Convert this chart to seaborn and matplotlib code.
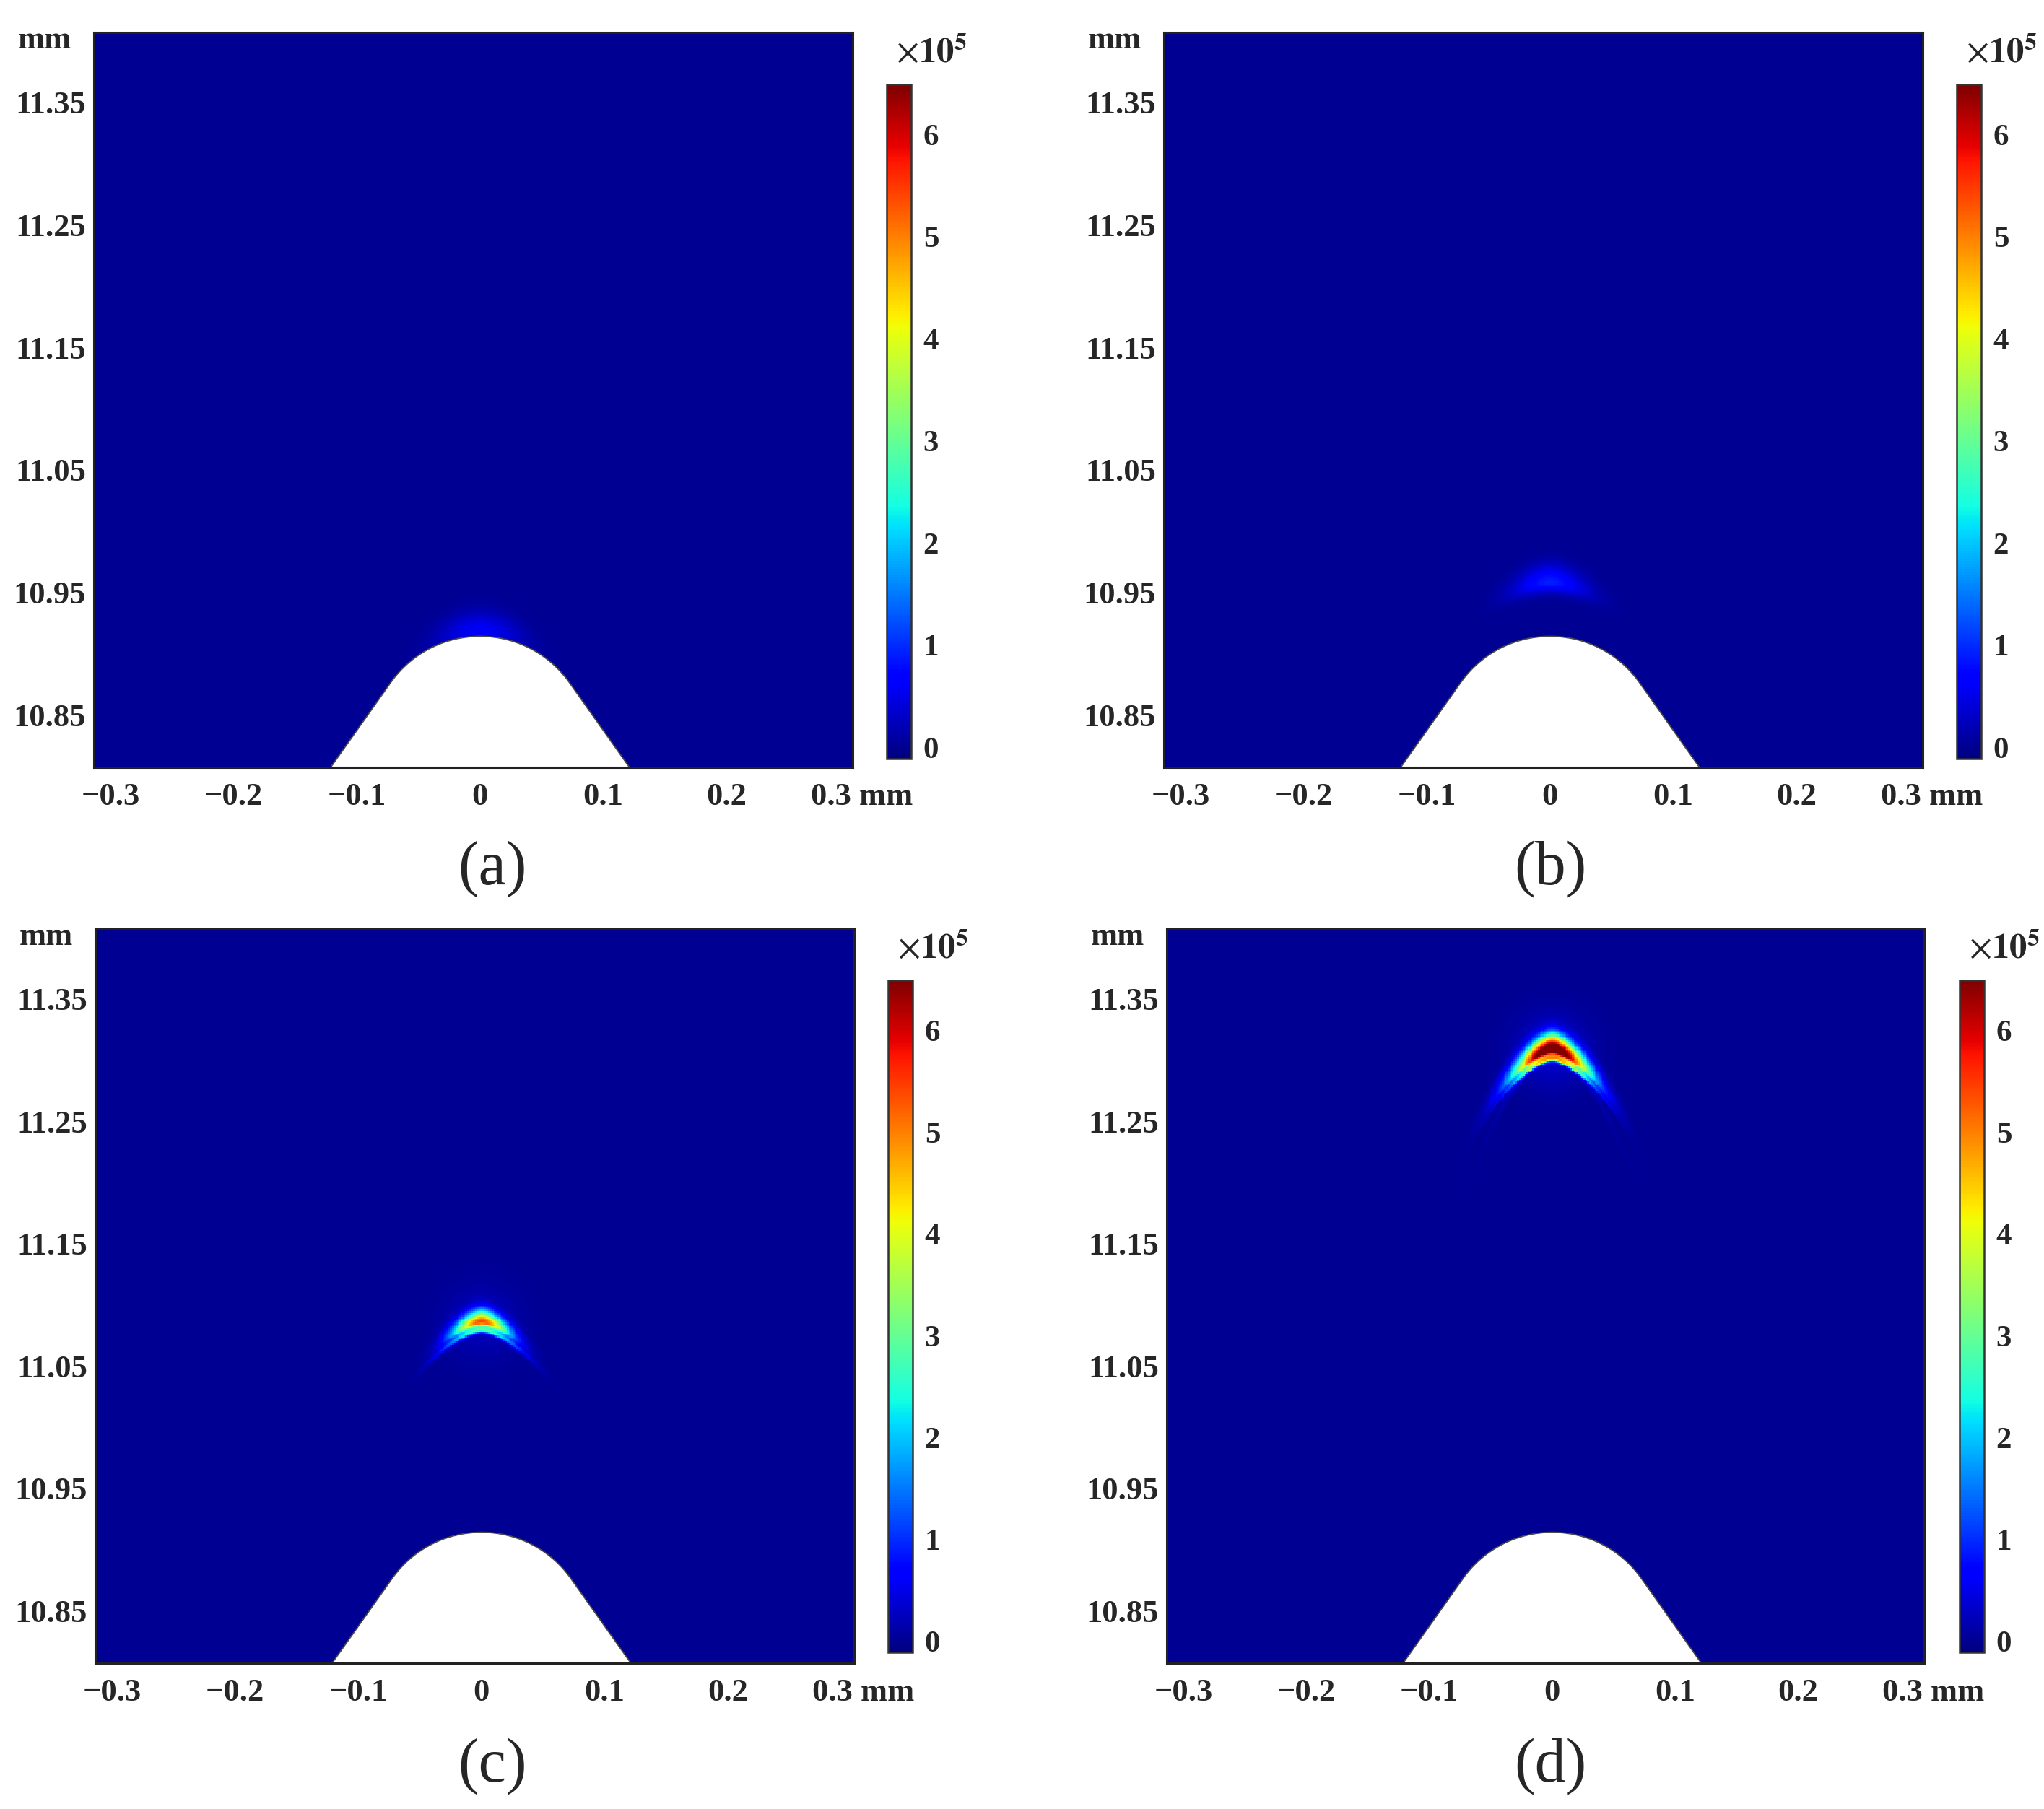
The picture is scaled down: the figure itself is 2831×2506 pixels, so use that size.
import numpy as np
import matplotlib
matplotlib.use("Agg")
import matplotlib.pyplot as plt
import seaborn as sns
from matplotlib.patches import Polygon

# --- values (field in units of 1e5) ---
panel_labels = ["(a)", "(b)", "(c)", "(d)"]

# streamer head: y of the front apex, peak value, half width, fall-off above / below the front
head_y = [10.918, 10.958, 11.086, 11.308]
head_peak = [0.6, 0.9, 4.9, 7.4]
head_width = [0.034, 0.030, 0.023, 0.030]
head_up = [0.016, 0.014, 0.0095, 0.012]
head_down = [0.020, 0.008, 0.0035, 0.004]
head_bend = [0.0, 0.12, 0.30, 0.35]
head_curv = [6.3, 5.0, 8.0, 11.0]
# inner (second) chevron and faint trailing arms
inner_ratio = [0.0, 0.0, 0.45, 0.50]
inner_width = [1.0, 1.0, 1.3, 1.05]
tail_peak = [0.0, 0.0, 0.45, 0.5]
tail_curv = [6.3, 10.0, 11.0, 18.0]

# needle electrode (mm)
tip_y = 10.914
tip_r = 0.0885
flank_slope = 1.42

# axes ranges and ticks
x_lim = (-0.3135, 0.3025)
y_lim = (10.807, 11.407)
x_ticks = [-0.3, -0.2, -0.1, 0.0, 0.1, 0.2, 0.3]
x_tick_labels = ["\u22120.3", "\u22120.2", "\u22120.1", "0", "0.1", "0.2", ""]
x_unit_label = "0.3 mm"
y_ticks = [10.85, 10.90, 10.95, 11.00, 11.05, 11.10, 11.15, 11.20, 11.25, 11.30, 11.35, 11.40]
y_tick_labels = ["10.85", "", "10.95", "", "11.05", "", "11.15", "", "11.25", "", "11.35", ""]
cbar_ticks = [0, 1, 2, 3, 4, 5, 6]
c_min, c_max = -0.11, 6.49

# --- grid ---
nx, ny = 400, 390
dx = (x_lim[1] - x_lim[0]) / nx
dy = (y_lim[1] - y_lim[0]) / ny
xs = x_lim[0] + (np.arange(nx) + 0.5) * dx
ys = y_lim[1] - (np.arange(ny) + 0.5) * dy
X, Y = np.meshgrid(xs, ys)


def col(x):
    return (x - x_lim[0]) / dx


def row(y):
    return (y_lim[1] - y) / dy


def electrode_top(x):
    phi = np.arctan(flank_slope)
    yc = tip_y - tip_r
    xt = tip_r * np.sin(phi)
    yt = yc + tip_r * np.cos(phi)
    ax_ = np.abs(x)
    arc = yc + np.sqrt(np.clip(tip_r ** 2 - ax_ ** 2, 0, None))
    line = yt - flank_slope * (ax_ - xt)
    return np.where(ax_ <= xt, arc, line)


def band(yh, amp, lx, up, down, bend, curv):
    front = yh - bend * (np.sqrt(X ** 2 + 0.004 ** 2) - 0.004) - curv * X ** 2
    d = Y - front
    sig = np.where(d > 0, up, down)
    return amp * np.exp(-(X / lx) ** 2) * np.exp(-(d / sig) ** 2)


# cells well inside the needle are masked, the outline patch covers the rest
inside = Y < electrode_top(X) - 1.5 * dy

sns.set_style("ticks")
plt.rcParams["font.family"] = ["Liberation Serif", "DejaVu Serif"]
plt.rcParams["mathtext.fontset"] = "stix"

W, H = 2831, 2506
fig = plt.figure(figsize=(W / 100, H / 100), dpi=100)

# pixel boxes (left, top, right, bottom)
ax_boxes = [(130, 45, 1181, 1063), (1612, 45, 2663, 1063),
            (132, 1287, 1183, 2304), (1616, 1287, 2665, 2304)]
cb_boxes = [(1228, 117, 1262, 1051), (2710, 117, 2744, 1051),
            (1230, 1358, 1264, 2289), (2714, 1358, 2748, 2289)]
label_pos = [(682, 1204), (2147, 1204), (682, 2447), (2147, 2447)]


def frac(box):
    l, t, r, b = box
    return [l / W, 1 - b / H, (r - l) / W, (b - t) / H]


for i in range(4):
    ax = fig.add_axes(frac(ax_boxes[i]))
    cax = fig.add_axes(frac(cb_boxes[i]))

    field = band(head_y[i], head_peak[i], head_width[i], head_up[i],
                 head_down[i], head_bend[i], head_curv[i])
    if inner_ratio[i] > 0:
        field += band(head_y[i] - 0.0065, head_peak[i] * inner_ratio[i],
                      head_width[i] * inner_width[i], 0.0025, 0.0022,
                      head_bend[i], head_curv[i])
    if tail_peak[i] > 0:
        field += band(head_y[i] - 0.004, tail_peak[i], head_width[i] * 1.3,
                      0.006, 0.004, head_bend[i], tail_curv[i])
        field += 0.05 * head_peak[i] * np.exp(-(X ** 2 + (Y - head_y[i]) ** 2) / 0.03 ** 2)

    sns.heatmap(field, ax=ax, cmap="jet", vmin=c_min, vmax=c_max, mask=inside,
                cbar_ax=cax, xticklabels=False, yticklabels=False,
                rasterized=True)
    ax.set_facecolor("white")

    # needle outline
    ex = np.linspace(-0.2, 0.2, 401)
    ey = electrode_top(ex)
    pts = np.column_stack([col(ex), row(ey)])
    pts = np.vstack([pts, [[col(0.2), row(10.7)], [col(-0.2), row(10.7)]]])
    ax.add_patch(Polygon(pts, closed=True, facecolor="white",
                         edgecolor="#4a4a4a", linewidth=1.3, zorder=3))

    for s in ax.spines.values():
        s.set_visible(True)
        s.set_color("#222222")
        s.set_linewidth(2.2)
        s.set_zorder(5)

    ax.set_xticks([col(v) for v in x_ticks])
    ax.set_xticklabels(x_tick_labels, fontsize=32, fontweight="bold")
    ax.set_yticks([row(v) for v in y_ticks])
    ax.set_yticklabels(y_tick_labels, fontsize=32, fontweight="bold")
    ax.set_xlim(0, nx)
    ax.set_ylim(ny, 0)
    ax.tick_params(direction="in", length=14, width=1.8,
                   top=True, right=True, color="#222222")
    ax.tick_params(axis="x", pad=15)
    ax.tick_params(axis="y", pad=8)
    ax.annotate(x_unit_label, xy=(col(0.31), 0), xycoords=("data", "axes fraction"),
                xytext=(0, -15), textcoords="offset points", ha="center", va="top",
                fontsize=32, fontweight="bold", annotation_clip=False)

    cbar = ax.collections[0].colorbar
    cbar.set_ticks(cbar_ticks)
    cbar.ax.tick_params(direction="in", length=7, width=1.5, left=True,
                        right=True, labelsize=31, pad=12, color="#222222")
    for t in cbar.ax.get_yticklabels():
        t.set_fontweight("bold")
    cbar.outline.set_edgecolor("#333333")
    cbar.outline.set_linewidth(1.8)

    l, t, r, b = cb_boxes[i]
    fig.text((l + 62) / W, 1 - (t - 43) / H, r"$\times\mathbf{10}^{\mathbf{5}}$",
             fontsize=35, ha="center", va="center")
    al, at, ar, ab = ax_boxes[i]
    fig.text((al - 31) / W, 1 - (at + 22) / H, "mm", fontsize=32,
             fontweight="bold", ha="right", va="baseline")
    lx_, ly_ = label_pos[i]
    fig.text(lx_ / W, 1 - ly_ / H, panel_labels[i], fontsize=62,
             ha="center", va="center")

fig.savefig("out.png", dpi=100)
